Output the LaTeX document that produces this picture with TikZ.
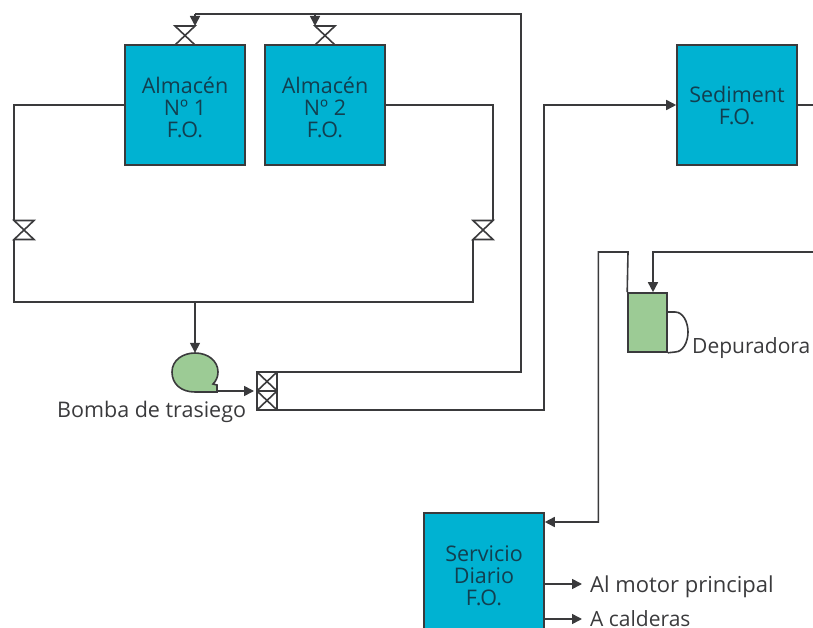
\documentclass[tikz,border=0pt]{standalone}
\usepackage{fontspec}
\setmainfont{Open Sans}
\usetikzlibrary{arrows.meta}
\definecolor{tank}{HTML}{00B2D2}
\definecolor{sep}{HTML}{9CCB95}
\definecolor{ink}{HTML}{3A3A3C}
\definecolor{inner}{HTML}{123F50}
\tikzset{
  ln/.style={draw=ink,line width=1.6pt,line join=miter},
  arr/.style={ln,-{Triangle[length=10pt,width=10pt]}},
  tankbox/.style={draw=ink,line width=1.6pt,fill=tank,minimum width=120pt,minimum height=120pt,inner sep=0pt,align=center,text=inner,font=\fontsize{21.5}{22}\selectfont},
  valve/.style={minimum width=20pt,minimum height=19pt,inner sep=0pt,outer sep=0pt},
  dvalve/.style={draw=ink,line width=1.6pt,minimum width=20pt,minimum height=19pt,inner sep=0pt,outer sep=0pt},
  lbl/.style={text=ink,inner sep=0pt,anchor=base west,font=\fontsize{21.5}{22}\selectfont}
}
\newcommand{\hourglass}[1]{\draw[ln] (#1.north west)--(#1.south east)--(#1.south west)--(#1.north east)--cycle;}
\newcommand{\crossmark}[1]{\draw[ln] (#1.north west)--(#1.south east) (#1.south west)--(#1.north east);}
\newcommand{\lowerit}{\rule{0pt}{21pt}}
\begin{document}
\begin{tikzpicture}[x=1pt,y=-1pt]
\useasboundingbox (0,0) rectangle (813,628);
\clip (0,0) rectangle (813,628);
\node[tankbox] (a1) at (185,105) {\lowerit Almacén\\Nº 1\\F.O.};
\node[tankbox] (a2) at (325,105) {\lowerit Almacén\\Nº 2\\F.O.};
\node[tankbox] (sed) at (737,105) {Sediment\\F.O.};
\node[tankbox] (srv) at (484,573) {\lowerit Servicio\\Diario\\F.O.};
\node[draw=ink,line width=1.6pt,fill=sep,minimum width=39pt,minimum height=59pt,inner sep=0pt] (dep) at (647.5,322.5) {};
\node[valve] (vt1) at (185,35.5) {};
\node[valve] (vt2) at (325,35.5) {};
\node[valve] (vl) at (24,230) {};
\node[valve] (vr) at (483,230) {};
\hourglass{vt1}\hourglass{vt2}\hourglass{vl}\hourglass{vr}
\node[dvalve] (d1) at (267,381.5) {};
\node[dvalve] (d2) at (267,400.5) {};
\crossmark{d1}\crossmark{d2}
% pump
\draw[ln,fill=sep] (217,392) -- (195,392)
  .. controls (181,392) and (172,384) .. (172,372)
  .. controls (172,360) and (183,353) .. (195,353)
  .. controls (208,353) and (218,361) .. (218,372)
  .. controls (218,377) and (216,381) .. (213,384)
  -- (217,385) -- cycle;
\node[minimum width=46pt,minimum height=39pt,inner sep=0pt] (pump) at (195,372.5) {};
\coordinate (pout) at (217,391);
\coordinate (busr) at (473,302);
\coordinate (busp) at (195,302);
\coordinate (rtop) at (521,14);
\coordinate (sedup) at (544,105);
\coordinate (dtop) at (598.4,252);
\coordinate (dtop2) at (628,252);
\coordinate (srvin) at (598.4,522);
\coordinate (edge1) at (813,105);
\coordinate (edge2) at (813,252);
\coordinate (dn) at (653,252);
\coordinate (t1) at (195,14);
\coordinate (t2) at (315,14);
\coordinate (out1) at (582,584);
\coordinate (out2) at (582,619);
\coordinate (so1) at (544,584);
\coordinate (so2) at (544,619);
% left and right legs
\draw[ln] (a1.west) -| (vl.north west);
\draw[ln] (vl.south west) |- (busr) -- (vr.south west);
\draw[ln] (a2.east) -| (vr.north east);
\draw[arr] (busp) -- (pump.north);
\draw[arr,shorten >=3pt] (pout) -- (d2.north west);
% return to the top
\draw[ln] (d1.north east) -| (rtop) -- (t1);
\draw[arr] (t1) -- (vt1.north east);
\draw[arr] (t2) -- (vt2.north west);
% to settling tank
\draw[arr] (d2.south east) -| (sedup) -- (sed.west);
\draw[ln] (sed.east) -- (edge1);
% purifier
\draw[arr] (edge2) -- (dn) -- (dn |- dep.north);
\draw[arr] (dep.north west) -- (dtop2) -- (dtop) -- (srvin) -- (srv.east |- srvin);
\draw[ln] (dep.east |- 0,312) -- (675,312) .. controls (683,312) and (688,322) .. (688,332)
  .. controls (688,342) and (683,352) .. (675,352) -- (dep.south east);
% outlets
\draw[arr] (so1) -- (out1);
\draw[arr] (so2) -- (out2);
% labels
\node[lbl] (t3) at (57,417) {Bomba de trasiego};
\node[lbl,font=\fontsize{21}{22}\selectfont] (t4) at (692,353) {Depuradora};
\node[lbl,font=\fontsize{22}{22}\selectfont] (t5) at (590,592) {Al motor principal};
\node[lbl,font=\fontsize{21}{22}\selectfont] (t6) at (590,626) {A calderas};
\end{tikzpicture}
\end{document}
